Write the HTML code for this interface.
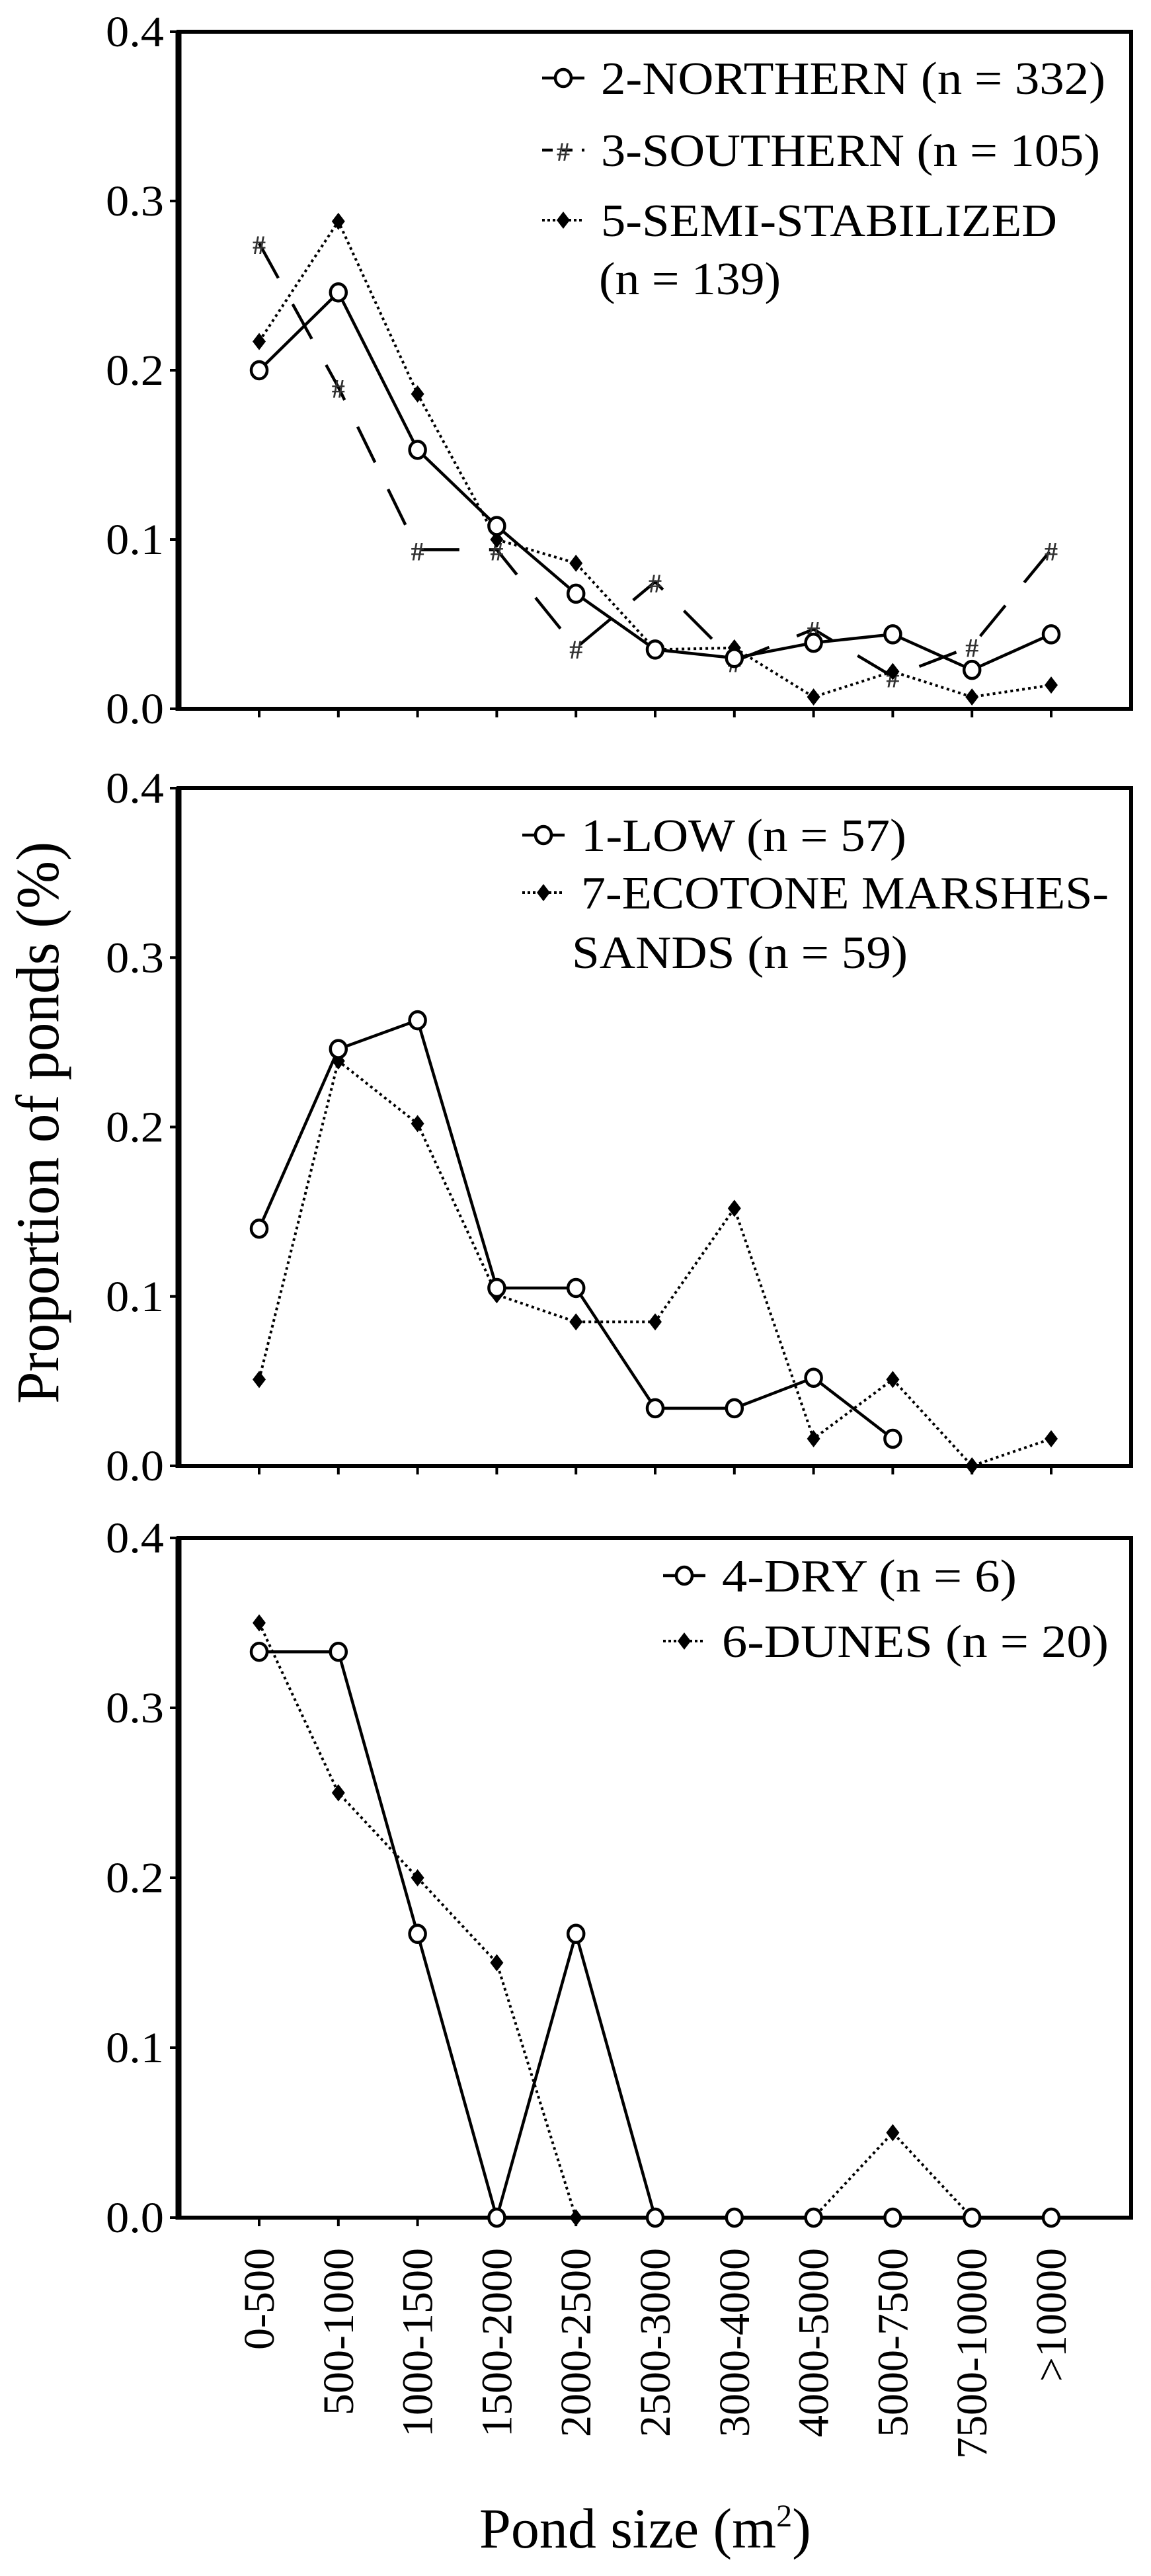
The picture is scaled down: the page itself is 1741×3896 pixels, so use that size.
<!DOCTYPE html>
<html><head><meta charset="utf-8">
<style>
html,body{margin:0;padding:0;background:#fff;}
svg{display:block;font-family:"Liberation Serif",serif;}
</style></head>
<body>
<svg id="fig" width="1741" height="3896" viewBox="0 0 1741 3896" xmlns="http://www.w3.org/2000/svg"></svg>
<script>
const categories = ["0-500","500-1000","1000-1500","1500-2000","2000-2500","2500-3000","3000-4000","4000-5000","5000-7500","7500-10000",">10000"];
const yTicks = [0, 0.1, 0.2, 0.3, 0.4];
const yTickLabels = ["0.0","0.1","0.2","0.3","0.4"];
// Panel 1
const northern = [0.200,0.246,0.153,0.108,0.068,0.035,0.030,0.039,0.044,0.023,0.044];
const southern = [0.275,0.190,0.094,0.094,0.036,0.075,0.028,0.047,0.019,0.037,0.094];
const semiStab = [0.217,0.288,0.186,0.100,0.086,0.035,0.036,0.007,0.022,0.007,0.014];
// Panel 2
const low = [0.140,0.246,0.263,0.105,0.105,0.034,0.034,0.052,0.016];
const ecotone = [0.051,0.239,0.202,0.101,0.085,0.085,0.152,0.016,0.051,0.000,0.016];
// Panel 3
const dry = [0.333,0.333,0.167,0.000,0.167,0.000,0.000,0.000,0.000,0.000,0.000];
const dunes = [0.350,0.250,0.200,0.150,0.000,0.000,0.000,0.000,0.050,0.000,0.000];

const NS = "http://www.w3.org/2000/svg";
const svg = document.getElementById('fig');
function mk(tag, attrs, parent){
  const e = document.createElementNS(NS, tag);
  for (const k in attrs) e.setAttribute(k, attrs[k]);
  (parent||svg).appendChild(e);
  return e;
}
const X0 = 270, X1 = 1711;
const firstTick = 392, tickStep = 119.8;
function xPos(i){ return firstTick + i*tickStep; }

const panels = [
  {top:48, bottom:1072, name:'panel-regions'},
  {top:1192, bottom:2217, name:'panel-low-ecotone'},
  {top:2326, bottom:3354, name:'panel-dry-dunes'}
];

function yScale(p){ return v => p.bottom - v/0.4*(p.bottom-p.top); }

function drawPanel(p, idx){
  const g = mk('g', {});
  
  
  const ys = yScale(p);
  const frame = mk('rect', {x:X0, y:p.top, width:X1-X0, height:p.bottom-p.top, fill:'none', stroke:'#000', 'stroke-width':6}, g);
  
  
  const yax = mk('line', {x1:X0, y1:p.top, x2:X0, y2:p.bottom+3, stroke:'#000', 'stroke-width':9}, g);
  
  
  yTicks.forEach((t, i) => {
    const y = ys(t);
    const tk = mk('line', {x1:X0-13, y1:y, x2:X0, y2:y, stroke:'#000', 'stroke-width':4}, g);
    
    
    const tl = mk('text', {x:X0-22, y:y+22, 'text-anchor':'end', 'font-size':66, textLength:88, lengthAdjust:'spacingAndGlyphs'}, g);
    tl.textContent = yTickLabels[i];
    
    
  });
  categories.forEach((c, i) => {
    const x = xPos(i);
    const tk = mk('line', {x1:x, y1:p.bottom, x2:x, y2:p.bottom+13, stroke:'#000', 'stroke-width':4}, g);
    
    
  });
  return {g, ys};
}

function series(g, ys, vals, style, marker, name){
  const sg = mk('g', {}, g);
  
  
  const pts = vals.map((v,i)=> xPos(i)+','+ys(v)).join(' ');
  const pl = mk('polyline', Object.assign({points:pts, fill:'none', stroke:'#000'}, style), sg);
  
  
  vals.forEach((v,i)=> drawMarker(sg, marker, xPos(i), ys(v)));
}

function drawMarker(g, type, x, y){
  let m;
  if (type === 'circle') {
    m = mk('ellipse', {cx:x, cy:y, rx:12, ry:13, fill:'#fff', stroke:'#000', 'stroke-width':4.5}, g);
  } else if (type === 'diamond') {
    m = mk('polygon', {points:`${x},${y-13} ${x+10},${y} ${x},${y+13} ${x-10},${y}`, fill:'#000'}, g);
  } else {
    m = mk('text', {x:x, y:y+16, 'text-anchor':'middle', 'font-size':40, 'font-weight':'bold', fill:'#333'}, g);
    m.textContent = '#';
  }
  
  
}

const solid = {'stroke-width':4.5};
const dashed = {'stroke-width':4.5, 'stroke-dasharray':'60 45'};
const dotted = {'stroke-width':4, 'stroke-dasharray':'4 5'};

function legendEntry(g, x, y, style, marker, lines, widths, name){
  const lg = mk('g', {}, g);
  
  
  const ln = mk('line', Object.assign({x1:x-32, y1:y, x2:x+32, y2:y, stroke:'#000'}, style, {'stroke-dasharray': style['stroke-dasharray'] ? (marker==='star'?'16 14':'4 4') : 'none'}), lg);
  
  
  drawMarker(lg, marker, x, y);
  lines.forEach((t, k) => {
    const tx = mk('text', {x:x+57 + (k>0?0:0), y:y+24 + k*98, 'font-size':70, textLength:widths[k], lengthAdjust:'spacingAndGlyphs'}, lg);
    tx.textContent = t;
    
    
  });
}

// Panel 1
let r = drawPanel(panels[0], 0);
series(r.g, r.ys, southern, dashed, 'star', 'series-southern');
series(r.g, r.ys, semiStab, dotted, 'diamond', 'series-semi-stabilized');
series(r.g, r.ys, northern, solid, 'circle', 'series-northern');
legendEntry(r.g, 852, 118, solid, 'circle', ['2-NORTHERN (n = 332)'], [763], 'legend-northern');
legendEntry(r.g, 852, 227, dashed, 'star', ['3-SOUTHERN (n = 105)'], [755], 'legend-southern');
legendEntry(r.g, 852, 333, dotted, 'diamond', ['5-SEMI-STABILIZED'], [690], 'legend-semi-stabilized');
(function(){
  const t = mk('text', {x:906, y:445, 'font-size':70, textLength:275, lengthAdjust:'spacingAndGlyphs'}, r.g);
  t.textContent = '(n = 139)';
  
  
})();

// Panel 2
r = drawPanel(panels[1], 1);
series(r.g, r.ys, ecotone, dotted, 'diamond', 'series-ecotone');
series(r.g, r.ys, low, solid, 'circle', 'series-low');
legendEntry(r.g, 822, 1263, solid, 'circle', ['1-LOW (n = 57)'], [492], 'legend-low');
legendEntry(r.g, 822, 1350, dotted, 'diamond', ['7-ECOTONE MARSHES-'], [798], 'legend-ecotone');
(function(){
  const t = mk('text', {x:865, y:1464, 'font-size':70, textLength:508, lengthAdjust:'spacingAndGlyphs'}, r.g);
  t.textContent = 'SANDS (n = 59)';
  
  
})();

// Panel 3
r = drawPanel(panels[2], 2);
series(r.g, r.ys, dunes, dotted, 'diamond', 'series-dunes');
series(r.g, r.ys, dry, solid, 'circle', 'series-dry');
legendEntry(r.g, 1035, 2383, solid, 'circle', ['4-DRY (n = 6)'], [446], 'legend-dry');
legendEntry(r.g, 1035, 2482, dotted, 'diamond', ['6-DUNES (n = 20)'], [585], 'legend-dunes');

// X tick labels (rotated)
categories.forEach((c, i) => {
  const x = xPos(i);
  const t = mk('text', {x:0, y:0, 'text-anchor':'end', 'font-size':66, transform:`translate(${x+22},3400) rotate(-90)`});
  t.textContent = c;
  
  
});

// Axis titles
const yt = mk('text', {x:0, y:0, 'text-anchor':'middle', 'font-size':92, textLength:850, lengthAdjust:'spacingAndGlyphs', transform:'translate(88,1698) rotate(-90)'});
yt.textContent = 'Proportion of ponds (%)';



const xt = mk('text', {x:725, y:3853, 'font-size':86});


const s1 = mk('tspan', {}, xt); s1.textContent = 'Pond size (m';
const s2 = mk('tspan', {dy:-32, 'font-size':48}, xt); s2.textContent = '2';
const s3 = mk('tspan', {dy:32}, xt); s3.textContent = ')';
</script>
</body></html>
